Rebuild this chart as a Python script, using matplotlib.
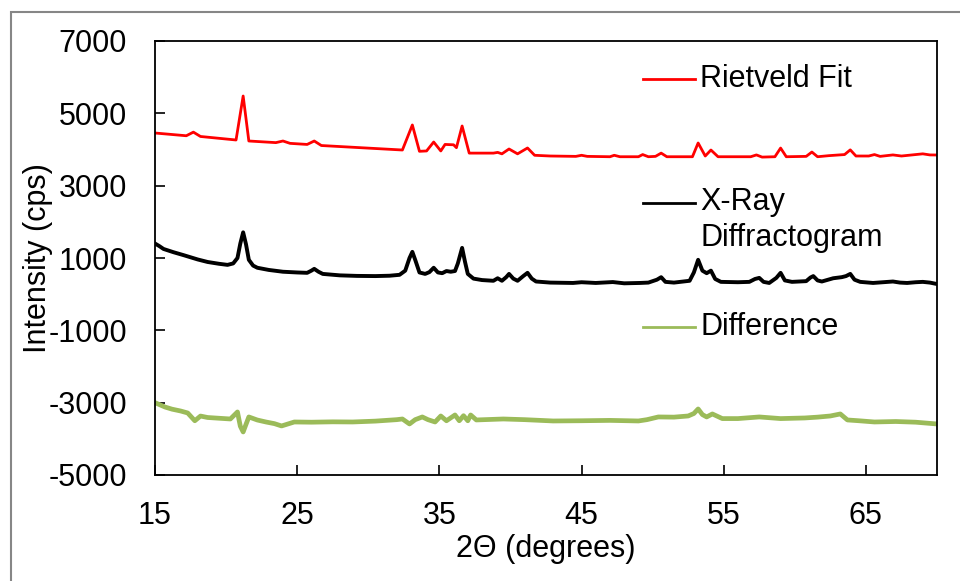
import matplotlib
matplotlib.use("Agg")
import matplotlib.pyplot as plt
from matplotlib.patches import Rectangle

plt.rcParams['font.family'] = ['Liberation Sans', 'DejaVu Sans']

# ---------------- data ----------------
fit_x = [15.0, 17.2, 17.7, 18.2, 20.7, 21.2, 21.6, 23.5, 24.0, 24.5, 25.7, 26.2, 26.7,
         32.4, 33.1, 33.6, 34.1, 34.6, 35.1, 35.4, 36.0, 36.2, 36.6, 37.1, 38.8, 39.1,
         39.4, 39.9, 40.5, 41.2, 41.7, 42.8, 44.6, 45.0, 45.4, 47.0, 47.3, 47.7, 49.0,
         49.3, 49.7, 50.2, 50.6, 51.0, 52.8, 53.2, 53.7, 54.1, 54.6, 56.9, 57.3, 57.7,
         58.6, 59.0, 59.4, 60.8, 61.2, 61.6, 62.4, 63.5, 63.9, 64.3, 65.2, 65.6, 66.0,
         66.9, 67.5, 69.0, 69.5, 70.0]
fit_y = [4456, 4380, 4480, 4360, 4263, 5479, 4235, 4190, 4235, 4170, 4140, 4235, 4110,
         3986, 4678, 3950, 3960, 4207, 3960, 4140, 4130, 4050, 4650, 3900, 3900, 3920,
         3880, 4014, 3880, 4042, 3840, 3820, 3810, 3840, 3810, 3800, 3840, 3800, 3800,
         3860, 3800, 3810, 3900, 3800, 3800, 4180, 3820, 3986, 3800, 3800, 3850, 3790,
         3800, 4040, 3800, 3810, 3930, 3800, 3830, 3860, 3990, 3820, 3820, 3860, 3810,
         3850, 3820, 3880, 3850, 3848]

xrd_x = [15.0, 15.3, 15.6, 16.3, 17.0, 18.0, 18.7, 19.5, 20.1, 20.5, 20.8, 21.0, 21.2,
         21.4, 21.6, 21.9, 22.2, 23.0, 24.0, 25.0, 25.7, 26.0, 26.2, 26.5, 26.8, 28.0,
         29.2, 30.5, 31.5, 32.2, 32.6, 32.9, 33.1, 33.3, 33.6, 34.0, 34.3, 34.6, 34.9,
         35.2, 35.5, 35.8, 36.1, 36.3, 36.6, 36.8, 37.0, 37.4, 38.0, 38.8, 39.1, 39.4,
         39.7, 39.9, 40.2, 40.5, 40.9, 41.2, 41.5, 41.8, 42.8, 44.4, 45.0, 46.0, 47.2,
         48.0, 49.1, 49.7, 50.3, 50.6, 50.9, 51.5, 52.6, 52.9, 53.2, 53.5, 53.8, 54.1,
         54.4, 54.8, 56.0, 56.8, 57.2, 57.5, 57.8, 58.2, 58.7, 59.0, 59.3, 59.8, 60.8,
         61.1, 61.3, 61.6, 61.9, 62.7, 63.3, 63.6, 63.9, 64.2, 64.6, 65.5, 66.2, 66.9,
         67.4, 67.9, 68.5, 69.0, 69.5, 70.0]
xrd_y = [1400, 1330, 1250, 1160, 1080, 960, 890, 840, 810, 850, 1000, 1400, 1710,
         1380, 950, 790, 730, 670, 620, 600, 590, 650, 700, 620, 560, 520,
         505, 500, 510, 535, 650, 1000, 1170, 950, 600, 560, 610, 730, 600,
         580, 640, 620, 640, 850, 1280, 900, 560, 430, 390, 370, 440, 370,
         470, 560, 430, 370, 500, 590, 430, 350, 320, 310, 330, 310, 335,
         300, 310, 320, 400, 470, 340, 320, 370, 600, 950, 650, 580, 650,
         420, 340, 330, 340, 420, 450, 340, 310, 450, 590, 380, 340, 360,
         460, 500, 380, 350, 440, 470, 500, 560, 400, 340, 310, 330, 350,
         320, 310, 330, 340, 320, 280]

diff_x = [15.0, 15.7, 16.2, 16.8, 17.3, 17.8, 18.2, 18.7, 19.2, 20.3, 20.8, 21.0, 21.2,
          21.4, 21.6, 22.2, 22.8, 23.4, 23.9, 24.8, 26.0, 27.5, 28.9, 30.5, 32.0, 32.4,
          32.9, 33.3, 33.8, 34.2, 34.7, 35.1, 35.5, 36.1, 36.4, 36.7, 37.0, 37.2, 37.6,
          39.5, 41.0, 43.0, 45.0, 47.0, 49.0, 49.6, 50.4, 51.5, 52.5, 52.9, 53.2, 53.5,
          53.8, 54.2, 54.9, 56.0, 57.5, 59.0, 60.7, 61.6, 62.5, 63.2, 63.7, 64.5, 65.6,
          67.1, 68.5, 70.0]
diff_y = [-3000, -3120, -3180, -3230, -3285, -3500, -3370, -3410, -3423, -3451, -3257, -3650, -3810,
          -3600, -3395, -3480, -3534, -3580, -3644, -3534, -3540, -3530, -3534, -3510, -3470, -3451,
          -3589, -3470, -3395, -3470, -3534, -3368, -3500, -3340, -3500, -3360, -3500, -3340, -3478,
          -3451, -3470, -3506, -3500, -3490, -3506, -3470, -3395, -3400, -3368, -3300, -3174, -3330,
          -3395, -3312, -3440, -3440, -3395, -3440, -3423, -3400, -3368, -3312, -3478, -3500, -3534,
          -3521, -3540, -3589]

series_labels = ["Rietveld Fit", "X-Ray\nDiffractogram", "Difference"]
x_ticks = [15, 25, 35, 45, 55, 65]
y_ticks = [-5000, -3000, -1000, 1000, 3000, 5000, 7000]

# ---------------- style ----------------
RED = "#FF0000"
BLACK = "#000000"
GREEN = "#9BBB59"
FS = 22

fig = plt.figure(figsize=(9.6, 5.81), dpi=100)
# outer chart border
fig.patches.append(Rectangle((11 / 960, -0.05), 1.2, 1 - 12 / 581 + 0.05,
                             transform=fig.transFigure, fill=False,
                             edgecolor="#868686", linewidth=1.5))

ax = fig.add_axes([155 / 960, 1 - 475 / 581, (937 - 155) / 960, (475 - 41) / 581])

ax.plot(fit_x, fit_y, color=RED, lw=2.0, solid_joinstyle='round')
ax.plot(xrd_x, xrd_y, color=BLACK, lw=2.8, solid_joinstyle='round')
ax.plot(diff_x, diff_y, color=GREEN, lw=3.4, solid_joinstyle='round')

ax.set_xlim(15, 70)
ax.set_ylim(-5000, 7000)
ax.set_xticks(x_ticks)
ax.set_yticks(y_ticks)
ax.set_xticklabels([str(t) for t in x_ticks])
ax.set_yticklabels([str(t) for t in y_ticks])
ax.tick_params(axis='both', direction='in', length=7, width=1.2, labelsize=FS,
               color='black')
ax.tick_params(axis='y', pad=20)
ax.tick_params(axis='x', pad=19)
for s in ax.spines.values():
    s.set_linewidth(1.3)
    s.set_color('black')

ax.set_xlabel("2\u0398 (degrees)", fontsize=FS, labelpad=2)
ax.set_ylabel("Intensity (cps)", fontsize=FS, labelpad=-3)

# legend-like labels placed next to the lines
leg_x0, leg_x1, leg_tx = 0.624, 0.6905, 0.697
leg_rows = [0.9124, 0.6267, 0.341]
colors = [RED, BLACK, GREEN]
for lab, yy, c in zip(series_labels, leg_rows, colors):
    ax.plot([leg_x0, leg_x1], [yy, yy], color=c, lw=2.0, transform=ax.transAxes,
            clip_on=False)
    if "\n" in lab:
        ax.text(leg_tx, yy + 0.037, lab, transform=ax.transAxes, fontsize=FS,
                va='top', ha='left', linespacing=1.25)
    else:
        ax.text(leg_tx, yy, lab, transform=ax.transAxes, fontsize=FS,
                va='center', ha='left')

fig.savefig("out.png", dpi=100)
